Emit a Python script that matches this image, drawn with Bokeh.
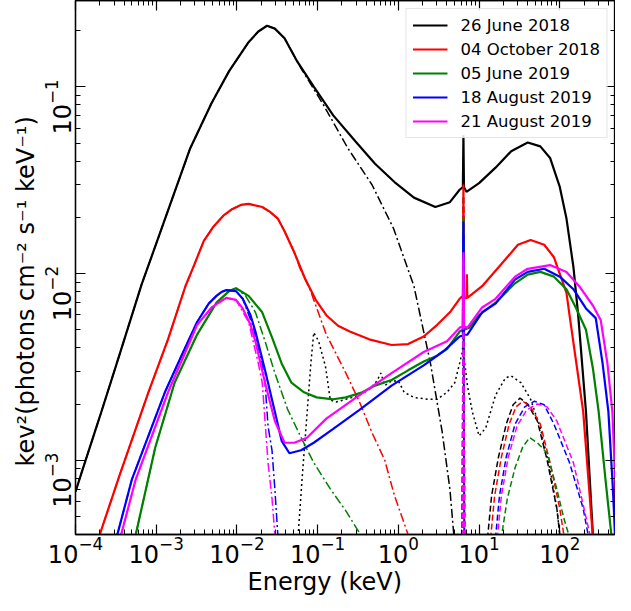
from bokeh.plotting import figure
from bokeh.models import Range1d, LogAxis, FixedTicker, LogScale, Title
from bokeh.embed import file_html
from bokeh.resources import INLINE

# ---------------- data ----------------
labels = ["26 June 2018", "04 October 2018", "05 June 2019", "18 August 2019", "21 August 2019"]
colors = ["#000000", "#ff0000", "#008000", "#0000ff", "#ff00ff"]

# 26 June 2018 (black)
e_tot_a = [1.0e-4, 1.15e-4, 2.0e-4, 3.48e-4, 6.6e-4, 1.06e-3, 2.64e-3, 4.86e-3, 8.0e-3, 0.01395, 0.0184, 0.0236,
           0.0295, 0.0389, 0.0558, 0.0895, 0.156, 0.295, 0.514, 0.895, 1.56, 2.87, 4.35, 5.74, 6.3, 6.4, 6.5,
           6.97, 10.0, 16.0, 25.0, 40.0, 57.4, 75.8, 100, 121, 147.5, 169, 211, 257, 272]
f_tot_a = [6.78e-4, 8.2e-4, 1.71e-3, 3.63e-3, 8.75e-3, 0.0155, 0.0469, 0.082, 0.1214, 0.1735, 0.1978, 0.2124,
           0.205, 0.182, 0.1368, 0.1003, 0.0703, 0.0509, 0.0387, 0.0309, 0.0255, 0.0227, 0.0241, 0.0281, 0.029,
           0.055, 0.029, 0.0274, 0.0305, 0.0369, 0.0452, 0.0503, 0.048, 0.0416, 0.0291, 0.0197, 0.01084, 5.98e-3,
           1.82e-3, 4.0e-4, 2.0e-4]
e_disk_a = [1.0e-4, 1.15e-4, 2.0e-4, 3.48e-4, 6.6e-4, 1.06e-3, 2.64e-3, 4.86e-3, 8.0e-3, 0.01395, 0.0184, 0.0236,
            0.0295, 0.0389, 0.0558, 0.0641, 0.118, 0.236, 0.473, 0.870, 1.56, 2.50, 3.48, 4.35, 4.86, 5.2]
f_disk_a = [6.78e-4, 8.2e-4, 1.71e-3, 3.63e-3, 8.75e-3, 0.0155, 0.0469, 0.082, 0.1214, 0.1735, 0.1978, 0.2124,
            0.205, 0.182, 0.1368, 0.123, 0.080, 0.047, 0.0298, 0.01746, 8.55e-3, 3.30e-3, 1.43e-3, 7.0e-4,
            4.0e-4, 2.4e-4]
e_refl_a = [0.0559, 0.0574, 0.0641, 0.0737, 0.0824, 0.0895, 0.1028, 0.125, 0.1435, 0.169, 0.2236, 0.330, 0.435,
            0.543, 0.607, 0.678, 0.824, 1.0, 1.18, 1.56, 2.30, 3.03, 4.0, 5.0, 5.74, 6.2, 6.4, 6.6, 7.17, 8.24,
            10.0, 12.1, 16.0, 21.2, 25.0, 33.0, 43.5, 57.4, 75.8, 92.0, 100, 106]
f_refl_a = [2.4e-4, 4.0e-4, 7.9e-4, 1.75e-3, 3.30e-3, 4.83e-3, 4.34e-3, 3.18e-3, 2.10e-3, 2.05e-3, 2.12e-3,
            2.23e-3, 2.39e-3, 2.66e-3, 2.93e-3, 2.51e-3, 2.66e-3, 2.66e-3, 2.31e-3, 2.17e-3, 2.12e-3, 2.12e-3,
            2.31e-3, 2.60e-3, 3.30e-3, 3.8e-3, 4.6e-3, 3.4e-3, 2.51e-3, 1.82e-3, 1.35e-3, 1.49e-3, 2.23e-3,
            2.76e-3, 2.83e-3, 2.60e-3, 2.12e-3, 1.49e-3, 8.9e-4, 5.5e-4, 4.0e-4, 2.7e-4]
e_comp_a = [12.1, 14.3, 17.4, 21.7, 26.4, 32.1, 40.0, 52.8, 69.7, 92.0, 100, 109]
f_comp_a = [3.05e-4, 6.46e-4, 1.04e-3, 1.56e-3, 1.98e-3, 2.15e-3, 2.00e-3, 1.62e-3, 1.00e-3, 5.5e-4, 4.0e-4, 2.4e-4]

# 04 October 2018 (red)
e_tot_b = [1.74e-4, 2.0e-4, 3.48e-4, 8.0e-4, 1.40e-3, 2.30e-3, 2.95e-3, 3.89e-3, 5.14e-3, 6.78e-3, 8.7e-3, 0.01117,
           0.0140, 0.0206, 0.0257, 0.0321, 0.0389, 0.0514, 0.0697, 0.0946, 0.128, 0.179, 0.250, 0.435, 0.824, 1.32,
           2.06, 3.03, 4.35, 5.74, 6.3, 6.4, 6.5, 6.97, 7.06, 7.15, 10.9, 18.9, 30.3, 43.5, 64.1, 84.7, 100, 121,
           132, 195, 257, 272]
f_tot_b = [3.05e-4, 4.0e-4, 8.2e-4, 2.31e-3, 4.44e-3, 8.55e-3, 0.0111, 0.01495, 0.01787, 0.0204, 0.0221, 0.0233,
           0.0236, 0.0227, 0.0214, 0.0197, 0.01683, 0.01296, 9.40e-3, 7.23e-3, 5.98e-3, 5.25e-3, 4.89e-3, 4.44e-3,
           4.14e-3, 4.19e-3, 4.60e-3, 5.31e-3, 6.20e-3, 7.32e-3, 7.6e-3, 0.030, 7.5e-3, 7.35e-3, 9.9e-3, 7.4e-3,
           8.55e-3, 0.01124, 0.01426, 0.01513, 0.01426, 0.01222, 9.97e-3, 7.87e-3, 5.98e-3, 1.82e-3, 3.87e-4, 2.4e-4]
e_disk_b = [1.74e-4, 2.0e-4, 3.48e-4, 8.0e-4, 1.40e-3, 2.30e-3, 2.95e-3, 3.89e-3, 5.14e-3, 6.78e-3, 8.7e-3,
            0.01117, 0.0140, 0.0206, 0.0257, 0.0321, 0.0389, 0.0514, 0.0607, 0.0801, 0.128, 0.2236, 0.330, 0.473,
            0.678, 0.895, 1.32, 1.43]
f_disk_b = [3.05e-4, 4.0e-4, 8.2e-4, 2.31e-3, 4.44e-3, 8.55e-3, 0.0111, 0.01495, 0.01787, 0.0204, 0.0221, 0.0233,
            0.0236, 0.0227, 0.0214, 0.0197, 0.01683, 0.01296, 0.0106, 8.24e-3, 4.71e-3, 2.93e-3, 2.05e-3, 1.40e-3,
            1.00e-3, 6.46e-4, 4.0e-4, 3.05e-4]
e_comp_b = [13.2, 15.6, 18.9, 23.6, 28.7, 34.8, 43.5, 57.4, 75.8, 100, 112, 121]
f_comp_b = [3.05e-4, 6.46e-4, 1.04e-3, 1.56e-3, 1.93e-3, 2.07e-3, 1.93e-3, 1.56e-3, 9.7e-4, 5.5e-4, 4.0e-4, 2.4e-4]

# 05 June 2019 (green)
e_tot_c = [4.9e-4, 5.58e-4, 9.73e-4, 1.69e-3, 3.21e-3, 5.58e-3, 8.0e-3, 9.73e-3, 0.01395, 0.02057, 0.0272, 0.0358,
           0.0473, 0.0678, 0.0973, 0.156, 0.2236, 0.358, 0.514, 0.824, 1.32, 2.06, 3.03, 4.0, 5.74, 6.3, 6.4,
           6.5, 7.58, 10.0, 16.0, 27.9, 40.0, 57.4, 84.7, 121, 160, 211, 257, 303, 368, 435, 470]
f_tot_c = [3.05e-4, 4.0e-4, 1.17e-3, 2.60e-3, 4.71e-3, 6.98e-3, 8.05e-3, 8.34e-3, 7.59e-3, 6.20e-3, 4.55e-3,
           3.30e-3, 2.60e-3, 2.31e-3, 2.17e-3, 2.12e-3, 2.17e-3, 2.31e-3, 2.51e-3, 2.69e-3, 3.03e-3, 3.38e-3,
           3.63e-3, 3.94e-3, 4.89e-3, 5.0e-3, 0.020, 5.0e-3, 5.13e-3, 5.98e-3, 6.98e-3, 8.86e-3, 9.86e-3, 0.0102,
           9.62e-3, 8.24e-3, 6.50e-3, 5.0e-3, 3.11e-3, 1.82e-3, 7.9e-4, 4.0e-4, 2.5e-4]
e_disk_c = [4.9e-4, 5.58e-4, 9.73e-4, 1.69e-3, 3.21e-3, 5.58e-3, 8.0e-3, 9.73e-3, 0.0128, 0.01694, 0.0223, 0.0295,
            0.0423, 0.0624, 0.0895, 0.1435, 0.2236, 0.339, 0.411]
f_disk_c = [3.05e-4, 4.0e-4, 1.17e-3, 2.60e-3, 4.71e-3, 6.98e-3, 8.05e-3, 8.34e-3, 7.59e-3, 6.20e-3, 4.34e-3,
            2.93e-3, 1.88e-3, 1.32e-3, 9.7e-4, 7.02e-4, 5.35e-4, 4.0e-4, 3.44e-4]
e_comp_c = [17.2, 18.9, 22.4, 27.9, 34.8, 42.3, 52.8, 69.7, 92.0, 112, 132, 147.5]
f_comp_c = [3.0e-4, 3.87e-4, 6.24e-4, 9.1e-4, 1.18e-3, 1.32e-3, 1.24e-3, 1.09e-3, 7.0e-4, 4.9e-4, 3.87e-4, 2.4e-4]

# 18 August 2019 (blue)
e_tot_d = [3.03e-4, 3.30e-4, 5.0e-4, 1.28e-3, 2.11e-3, 3.21e-3, 4.47e-3, 5.58e-3, 6.41e-3, 7.37e-3, 9.73e-3, 0.0118,
           0.01475, 0.01694, 0.0223, 0.0295, 0.0358, 0.0447, 0.0624, 0.0895, 0.156, 0.330, 0.824, 2.06, 2.50,
           3.79, 5.74, 6.3, 6.4, 6.5, 7.17, 10.9, 16.0, 27.9, 40.0, 64.1, 100, 147.5, 211, 279, 339, 400, 448, 486]
f_tot_d = [3.24e-4, 4.0e-4, 7.9e-4, 2.31e-3, 3.72e-3, 5.5e-3, 6.90e-3, 7.59e-3, 7.96e-3, 8.15e-3, 8.05e-3, 7.32e-3,
           5.98e-3, 4.89e-3, 3.03e-3, 1.82e-3, 1.27e-3, 1.09e-3, 1.13e-3, 1.24e-3, 1.47e-3, 1.86e-3, 2.51e-3,
           3.22e-3, 3.42e-3, 3.90e-3, 4.60e-3, 4.65e-3, 0.019, 4.7e-3, 4.71e-3, 6.20e-3, 6.90e-3, 9.29e-3, 0.0102,
           0.0106, 9.62e-3, 8.24e-3, 6.50e-3, 5.77e-3, 3.30e-3, 1.82e-3, 7.9e-4, 3.87e-4]
e_disk_d = [3.03e-4, 3.30e-4, 5.0e-4, 1.28e-3, 2.11e-3, 3.21e-3, 4.47e-3, 5.58e-3, 6.41e-3, 7.37e-3, 9.73e-3, 0.0118,
            0.0156, 0.02057, 0.0223, 0.0243, 0.0272, 0.0295, 0.0321, 0.0339]
f_disk_d = [3.24e-4, 4.0e-4, 7.9e-4, 2.31e-3, 3.72e-3, 5.5e-3, 6.90e-3, 7.59e-3, 7.96e-3, 8.15e-3, 8.05e-3, 7.32e-3,
            5.3e-3, 3.30e-3, 2.60e-3, 1.52e-3, 1.13e-3, 7.0e-4, 4.0e-4, 2.7e-4]
e_comp_d = [15.2, 17.9, 21.7, 27.9, 36.8, 48.6, 64.1, 84.7, 132, 195, 224, 250]
f_comp_d = [3.05e-4, 6.46e-4, 1.04e-3, 1.56e-3, 1.93e-3, 2.07e-3, 1.98e-3, 1.56e-3, 9.7e-4, 5.5e-4, 4.0e-4, 2.4e-4]

# 21 August 2019 (magenta)
e_tot_e = [3.39e-4, 3.68e-4, 5.58e-4, 1.40e-3, 3.21e-3, 4.86e-3, 7.37e-3, 9.73e-3, 0.0118, 0.01475, 0.01694,
           0.0223, 0.0295, 0.0389, 0.0514, 0.0737, 0.128, 0.330, 0.824, 2.06, 4.0, 5.74, 6.3, 6.4, 6.5, 7.17,
           10.9, 16.0, 27.9, 40.0, 75.8, 121, 174, 257, 321, 389, 448, 486, 514]
f_tot_e = [3.24e-4, 4.0e-4, 7.9e-4, 2.31e-3, 5.31e-3, 6.58e-3, 7.41e-3, 7.23e-3, 6.50e-3, 5.31e-3, 4.34e-3,
           2.60e-3, 1.62e-3, 1.24e-3, 1.24e-3, 1.32e-3, 1.67e-3, 2.23e-3, 2.93e-3, 3.80e-3, 4.34e-3, 5.13e-3,
           5.2e-3, 0.013, 5.2e-3, 5.13e-3, 6.58e-3, 7.32e-3, 9.62e-3, 0.0106, 0.0111, 0.0102, 8.55e-3, 6.74e-3,
           5.64e-3, 3.30e-3, 1.82e-3, 7.9e-4, 3.87e-4]
e_disk_e = [3.39e-4, 3.68e-4, 5.58e-4, 1.40e-3, 3.21e-3, 4.86e-3, 7.37e-3, 9.73e-3, 0.01395, 0.0184, 0.0206,
            0.0223, 0.0243, 0.0272, 0.0295, 0.0312]
f_disk_e = [3.24e-4, 4.0e-4, 7.9e-4, 2.31e-3, 5.31e-3, 6.58e-3, 7.41e-3, 7.23e-3, 5.5e-3, 3.30e-3, 2.60e-3,
            1.62e-3, 9.7e-4, 6.24e-4, 4.0e-4, 2.71e-4]
e_comp_e = [16.0, 18.9, 23.0, 29.5, 38.9, 52.8, 69.7, 92.0, 147.5, 200, 236, 264]
f_comp_e = [3.05e-4, 6.46e-4, 1.04e-3, 1.52e-3, 1.86e-3, 2.00e-3, 1.93e-3, 1.62e-3, 9.7e-4, 5.5e-4, 4.0e-4, 2.4e-4]

# narrow 6.4 keV iron line components
e_line = [6.2, 6.3, 6.35, 6.4, 6.45, 6.5, 6.6]
f_line_a = [2e-4, 1.5e-3, 8e-3, 0.026, 8e-3, 1.5e-3, 2e-4]
f_line_b = [2e-4, 1.4e-3, 7e-3, 0.022, 7e-3, 1.4e-3, 2e-4]
f_line_c = [2e-4, 1.2e-3, 5e-3, 0.015, 5e-3, 1.2e-3, 2e-4]
f_line_d = [2e-4, 1.2e-3, 5.5e-3, 0.016, 5.5e-3, 1.2e-3, 2e-4]
f_line_e = [2e-4, 1.1e-3, 4.5e-3, 0.012, 4.5e-3, 1.1e-3, 2e-4]

x_ticks = [1e-4, 1e-3, 1e-2, 1e-1, 1e0, 1e1, 1e2]
y_ticks = [1e-3, 1e-2, 1e-1]

x_title = "Energy (keV)"
y_title = "kev\u00b2(photons cm\u207b\u00b2 s\u207b\u00b9 keV\u207b\u00b9)"

# ---------------- figure ----------------
X0, X1 = 1e-4, 490.0
Y0, Y1 = 4.0e-4, 0.29
FONT = "DejaVu Sans"

p = figure(width=615, height=595, x_axis_type="log", y_axis_type="log",
           x_range=Range1d(X0, X1), y_range=Range1d(Y0, Y1),
           output_backend="svg", toolbar_location=None,
           min_border_left=75, min_border_right=0, min_border_top=0, min_border_bottom=0)
p.grid.visible = False
p.outline_line_color = "black"
p.outline_line_width = 1.3
p.background_fill_color = "white"
p.border_fill_color = "white"

xminor = [m * 10.0 ** k for k in range(-4, 3) for m in range(2, 10)]
yminor = [m * 10.0 ** k for k in range(-4, 0) for m in range(2, 10)]


def style_ticks(ax):
    ax.axis_line_color = "black"
    ax.axis_line_width = 1.3
    ax.major_tick_line_color = "black"
    ax.minor_tick_line_color = "black"
    ax.major_tick_line_width = 1.2
    ax.minor_tick_line_width = 1.0
    ax.major_tick_in = 10
    ax.major_tick_out = 0
    ax.minor_tick_in = 5
    ax.minor_tick_out = 0


def hide_labels(ax):
    ax.major_label_text_font_size = "1px"
    ax.major_label_text_alpha = 0.0
    ax.major_label_standoff = 0


xa = p.xaxis[0]
xa.ticker = FixedTicker(ticks=x_ticks, minor_ticks=xminor)
style_ticks(xa)
xa.major_label_text_font = FONT
xa.major_label_text_font_size = "24px"
xa.major_label_text_color = "black"
xa.major_label_standoff = 1

ya = p.yaxis[0]
ya.ticker = FixedTicker(ticks=y_ticks, minor_ticks=yminor)
style_ticks(ya)
hide_labels(ya)

# y tick labels, drawn by an axis shifted ~20 px downward like the reference
p.extra_y_ranges = {"lab": Range1d(Y0 * 1.28, Y1 * 1.28)}
p.extra_y_scales = {"lab": LogScale()}
lab = LogAxis(y_range_name="lab", ticker=FixedTicker(ticks=y_ticks))
lab.axis_line_color = None
lab.major_tick_line_color = None
lab.minor_tick_line_color = None
lab.major_tick_in = 0
lab.major_tick_out = 0
lab.major_label_standoff = 5
lab.major_label_orientation = "vertical"
lab.major_label_text_font = FONT
lab.major_label_text_font_size = "24px"
lab.major_label_text_color = "black"
p.add_layout(lab, "left")

top = LogAxis(ticker=FixedTicker(ticks=x_ticks, minor_ticks=xminor))
style_ticks(top)
hide_labels(top)
p.add_layout(top, "above")

right = LogAxis(ticker=FixedTicker(ticks=y_ticks, minor_ticks=yminor))
style_ticks(right)
hide_labels(right)
p.add_layout(right, "right")

# axis titles, offset like in the reference
p.add_layout(Title(text=x_title, align="left", offset=172, text_font=FONT, text_color="black",
                   text_font_size="24px", text_font_style="normal", standoff=0), "below")
p.add_layout(Title(text=y_title, align="left", offset=68, text_font=FONT, text_color="black",
                   text_font_size="24px", text_font_style="normal", standoff=2), "left")

# ---------------- curves ----------------
DASHDOT = "9 3 2 3"
DASHED = "6 3"
DOTTED = "2 3"

sets = [
    (e_tot_a, f_tot_a, e_disk_a, f_disk_a, e_comp_a, f_comp_a, f_line_a),
    (e_tot_b, f_tot_b, e_disk_b, f_disk_b, e_comp_b, f_comp_b, f_line_b),
    (e_tot_c, f_tot_c, e_disk_c, f_disk_c, e_comp_c, f_comp_c, f_line_c),
    (e_tot_d, f_tot_d, e_disk_d, f_disk_d, e_comp_d, f_comp_d, f_line_d),
    (e_tot_e, f_tot_e, e_disk_e, f_disk_e, e_comp_e, f_comp_e, f_line_e),
]

for i, (et, ft, ed, fd, ec, fc, fl) in enumerate(sets):
    c = colors[i]
    p.line(et, ft, line_color=c, line_width=2.2, legend_label=labels[i])
    p.line(ed, fd, line_color=c, line_width=1.5, line_dash=DASHDOT)
    if i == 0:
        p.line(e_refl_a, f_refl_a, line_color=c, line_width=1.5, line_dash=DOTTED)
    p.line(ec, fc, line_color=c, line_width=1.5, line_dash=DASHED)
    p.line(e_line, fl, line_color=c, line_width=2.0, line_dash=DASHED)

lg = p.legend[0]
lg.location = "top_right"
lg.margin = 8
lg.padding = 6
lg.spacing = 4
lg.label_text_font = FONT
lg.label_text_font_size = "16.5px"
lg.label_text_color = "black"
lg.glyph_width = 35
lg.glyph_height = 20
lg.label_height = 20
lg.label_standoff = 13
lg.border_line_color = "#cccccc"
lg.border_line_width = 1
lg.background_fill_alpha = 0.85

open("out.html", "w").write(file_html(p, INLINE))
